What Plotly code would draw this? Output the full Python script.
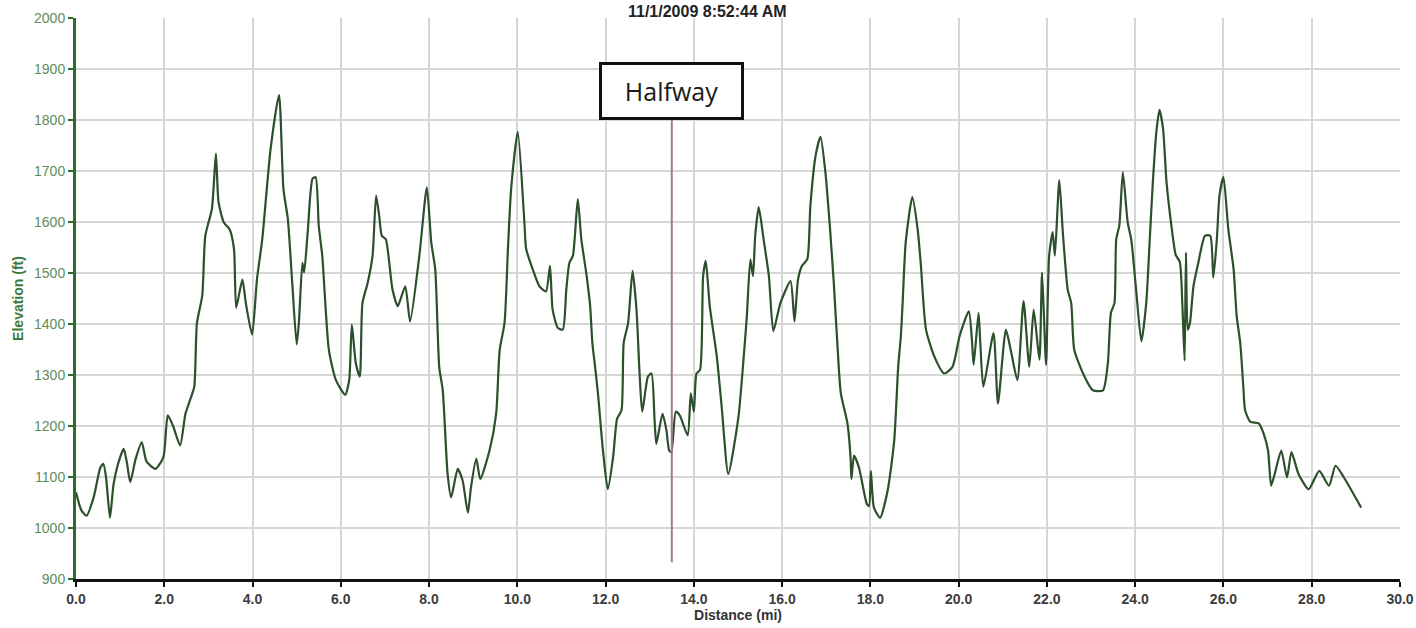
import plotly.graph_objects as go

distance_mi = [
    0.0, 0.12, 0.24, 0.4, 0.55, 0.62, 0.68, 0.77, 0.85, 0.95, 1.08, 1.15, 1.23, 1.35, 1.49, 1.6, 1.8, 1.98,
    2.08, 2.2, 2.36, 2.48, 2.6, 2.68, 2.74, 2.86, 2.93, 3.08, 3.17, 3.23, 3.35, 3.48, 3.58, 3.63, 3.77, 3.85,
    3.99, 4.1, 4.22, 4.41, 4.6, 4.7, 4.8, 4.9, 5.0, 5.05, 5.13, 5.17, 5.25, 5.36, 5.43, 5.5, 5.58, 5.73,
    5.89, 6.1, 6.19, 6.25, 6.34, 6.43, 6.49, 6.61, 6.72, 6.8, 6.87, 6.93, 7.02, 7.17, 7.29, 7.46, 7.57, 7.78,
    7.95, 8.05, 8.14, 8.23, 8.31, 8.42, 8.5, 8.65, 8.76, 8.88, 8.95, 9.07, 9.16, 9.37, 9.52, 9.6, 9.71, 9.79,
    9.86, 10.01, 10.16, 10.2, 10.35, 10.5, 10.65, 10.74, 10.8, 10.92, 11.03, 11.11, 11.18, 11.26, 11.37,
    11.45, 11.56, 11.65, 11.7, 11.77, 11.83, 11.86, 11.94, 12.05, 12.17, 12.26, 12.36, 12.41, 12.51, 12.61,
    12.7, 12.77, 12.83, 12.96, 13.04, 13.11, 13.15, 13.29, 13.38, 13.44, 13.49, 13.59, 13.68, 13.86, 13.93,
    14.0, 14.06, 14.14, 14.21, 14.27, 14.36, 14.52, 14.63, 14.78, 15.01, 15.13, 15.2, 15.28, 15.34, 15.39,
    15.47, 15.58, 15.7, 15.8, 15.96, 16.19, 16.28, 16.36, 16.45, 16.57, 16.64, 16.76, 16.87, 16.98, 17.08,
    17.17, 17.25, 17.33, 17.48, 17.55, 17.57, 17.63, 17.74, 17.92, 17.97, 18.01, 18.08, 18.22, 18.39, 18.54,
    18.63, 18.69, 18.73, 18.8, 18.95, 19.07, 19.14, 19.26, 19.45, 19.67, 19.86, 20.02, 20.23, 20.3, 20.34,
    20.45, 20.49, 20.56, 20.79, 20.89, 21.07, 21.18, 21.33, 21.47, 21.6, 21.7, 21.83, 21.89, 21.98, 22.05,
    22.13, 22.18, 22.28, 22.36, 22.47, 22.55, 22.62, 22.85, 23.04, 23.27, 23.38, 23.45, 23.53, 23.57, 23.64,
    23.72, 23.83, 23.91, 24.02, 24.14, 24.25, 24.33, 24.4, 24.48, 24.55, 24.63, 24.71, 24.82, 24.92, 25.01,
    25.07, 25.12, 25.15, 25.19, 25.24, 25.32, 25.43, 25.58, 25.7, 25.77, 25.85, 25.91, 26.0, 26.11, 26.23,
    26.3, 26.38, 26.45, 26.49, 26.61, 26.8, 26.91, 27.01, 27.08, 27.16, 27.31, 27.44, 27.54, 27.7, 27.93,
    28.17, 28.39, 28.54, 28.73, 29.12,
]
elevation_ft = [
    1070, 1035, 1024, 1060, 1118, 1126, 1100, 1020, 1085, 1125, 1155, 1130, 1090, 1135, 1168, 1130, 1116, 1139,
    1221, 1200, 1162, 1224, 1255, 1277, 1402, 1455, 1573, 1626, 1734, 1639, 1599, 1586, 1547, 1432, 1487, 1440,
    1379, 1487, 1566, 1744, 1849, 1665, 1606, 1480, 1360, 1402, 1520, 1501, 1580, 1685, 1688, 1593, 1534, 1349,
    1290, 1261, 1290, 1399, 1323, 1297, 1441, 1481, 1534, 1652, 1612, 1573, 1566, 1468, 1435, 1474, 1405, 1534,
    1668, 1560, 1507, 1316, 1270, 1106, 1060, 1116, 1093, 1030, 1080, 1136, 1096, 1152, 1224, 1349, 1402, 1553,
    1665, 1777, 1599, 1547, 1507, 1474, 1464, 1514, 1428, 1392, 1389, 1468, 1520, 1534, 1645,
    1566, 1501, 1435, 1363, 1310, 1261, 1231, 1152, 1076, 1139, 1214, 1231, 1363, 1402, 1504,
    1428, 1303, 1228, 1297, 1303, 1211, 1165, 1224, 1191, 1152, 1149, 1228, 1221, 1182, 1264,
    1228, 1303, 1310, 1494, 1524, 1435, 1336, 1238, 1106, 1218, 1336, 1415, 1527, 1494, 1573,
    1629, 1566, 1494, 1386, 1441, 1484, 1405, 1487, 1514, 1527, 1632, 1731, 1767, 1698, 1593,
    1481, 1363, 1264, 1205, 1139, 1096, 1142, 1119, 1047, 1043, 1112, 1040, 1020, 1073, 1172,
    1316, 1376, 1441, 1560, 1649, 1586, 1520, 1389, 1336, 1303, 1316, 1376, 1425, 1369, 1320,
    1422, 1363, 1277, 1382, 1244, 1389, 1349, 1290, 1445, 1316, 1428, 1330, 1501, 1320, 1534,
    1580, 1534, 1682, 1580, 1468, 1441, 1349, 1297, 1270, 1270, 1323, 1422, 1441, 1566, 1593,
    1698, 1599, 1566, 1468, 1366, 1441, 1566, 1678, 1777, 1820, 1784, 1678, 1593, 1535, 1522,
    1435, 1328, 1540, 1389, 1402, 1474, 1520, 1573, 1573, 1491, 1566, 1652, 1688, 1586, 1507,
    1415, 1363, 1277, 1231, 1208, 1205, 1185, 1152, 1083, 1106, 1152, 1099, 1149, 1106, 1076,
    1112, 1083, 1122, 1099, 1040,
]

x_ticks = [0, 2, 4, 6, 8, 10, 12, 14, 16, 18, 20, 22, 24, 26, 28, 30]
x_tick_labels = [f"{v:.1f}" for v in x_ticks]
y_ticks = [900, 1000, 1100, 1200, 1300, 1400, 1500, 1600, 1700, 1800, 1900, 2000]

halfway_mi = 13.5
halfway_line_bottom = 933
halfway_line_top = 1800
chart_title = "11/1/2009 8:52:44 AM"

fig = go.Figure()
fig.add_trace(go.Scatter(
    x=distance_mi, y=elevation_ft, mode="lines",
    line=dict(color="#2c4f2c", width=2.2, shape="spline", smoothing=0.6),
    hoverinfo="x+y", showlegend=False,
))

fig.add_shape(type="line", xref="x", yref="y",
              x0=halfway_mi, x1=halfway_mi, y0=halfway_line_bottom, y1=halfway_line_top,
              line=dict(color="#a07a8e", width=2))

fig.add_annotation(x=halfway_mi, y=halfway_line_top, xref="x", yref="y",
                   text="Halfway", showarrow=False, yanchor="bottom", xanchor="center",
                   font=dict(family="Open Sans", size=25, color="#1a1a1a"),
                   bgcolor="white", bordercolor="#111111", borderwidth=3, borderpad=0,
                   width=139, height=52)

fig.add_annotation(x=14.3, y=1, xref="x", yref="paper", yanchor="bottom", yshift=-4,
                   text=chart_title, showarrow=False,
                   font=dict(family="Liberation Sans", size=16, color="#222222", weight="bold"))

fig.update_layout(
    width=1416, height=628,
    margin=dict(l=76, r=16, t=18, b=49, autoexpand=False),
    paper_bgcolor="white", plot_bgcolor="white",
    font=dict(family="Liberation Sans"),
    xaxis=dict(
        range=[0, 30], tickvals=x_ticks, ticktext=x_tick_labels, automargin=False,
        showgrid=True, gridcolor="#d6d6d6", gridwidth=1.5, zeroline=False,
        showline=True, linecolor="#111111", linewidth=2.5,
        ticks="outside", ticklen=5, tickcolor="#111111", tickwidth=2,
        tickfont=dict(family="Liberation Sans", size=14, color="#3c3c3c", weight="bold"),
        title=dict(text="Distance (mi)", standoff=4,
                   font=dict(family="Liberation Sans", size=14, color="#333333", weight="bold")),
    ),
    yaxis=dict(
        range=[900, 2000], tickvals=y_ticks, automargin=False,
        showgrid=True, gridcolor="#d6d6d6", gridwidth=1.5, zeroline=False,
        showline=True, linecolor="#2d6a2d", linewidth=3,
        ticks="outside", ticklen=5, tickcolor="#2d6a2d", tickwidth=2,
        tickfont=dict(family="Liberation Sans", size=14, color="#5e8c5e"),
        title=dict(text="Elevation (ft)", standoff=8,
                   font=dict(family="Liberation Sans", size=14, color="#3d7a3d", weight="bold")),
    ),
)

fig.write_html("out.html", config={"displayModeBar": False},
               post_script="document.body.style.margin='0';")
